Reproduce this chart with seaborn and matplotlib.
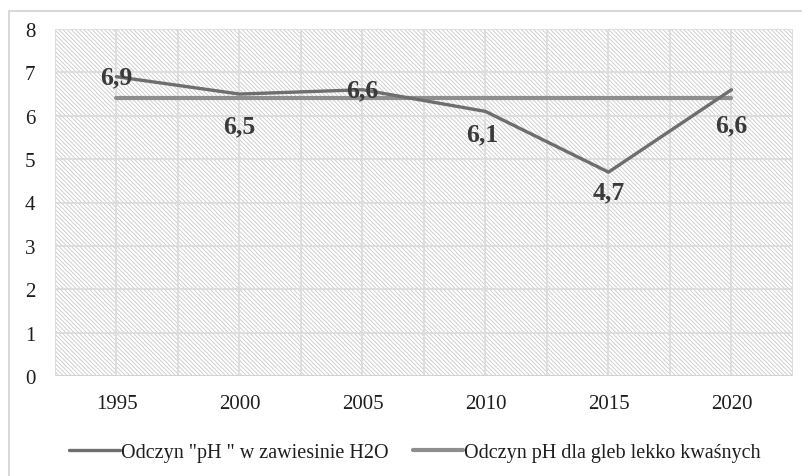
import matplotlib
matplotlib.use("Agg")
import matplotlib.pyplot as plt
import seaborn as sns
import pandas as pd
from matplotlib.patches import Rectangle
from matplotlib.lines import Line2D

years = [1995, 2000, 2005, 2010, 2015, 2020]
ph_values = [6.9, 6.5, 6.6, 6.1, 4.7, 6.6]
ph_reference = [6.4, 6.4, 6.4, 6.4, 6.4, 6.4]
series_names = ['Odczyn "pH " w zawiesinie H2O', "Odczyn pH dla gleb lekko kwaśnych"]
value_labels = ["6,9", "6,5", "6,6", "6,1", "4,7", "6,6"]

# label offsets in pixels (dx, dy)
label_offsets = [(0, 0), (0, -32), (0, 0), (-3, -22), (0, -20), (0, -35)]

sns.set_theme(style="white")
plt.rcParams["font.family"] = ["Liberation Serif", "DejaVu Serif"]
plt.rcParams["hatch.color"] = "#c9c9c9"
plt.rcParams["hatch.linewidth"] = 0.6

df = pd.DataFrame({"year": years, "ph": ph_values, "ref": ph_reference})

fig = plt.figure(figsize=(8.03, 4.77), dpi=100)
ax = fig.add_axes([55 / 803, 100 / 477, 738 / 803, 347 / 477])

# hatched plot area
ax.add_patch(Rectangle((0, 0), 1, 1, transform=ax.transAxes, facecolor="white",
                       edgecolor="#c9c9c9", lw=0, hatch="\\" * 8, zorder=0))

sns.lineplot(data=df, x="year", y="ph", ax=ax, color="#6e6e6e", lw=2.4, zorder=4)
sns.lineplot(data=df, x="year", y="ref", ax=ax, color="#8e8e8e", lw=3.0, zorder=3)

ax.set_xlim(1992.5, 2022.5)
ax.set_ylim(0, 8)
ax.set_xticks(years)
ax.set_xticks([y + 2.5 for y in years] + [1992.5], minor=True)
ax.set_yticks(range(0, 9))
ax.grid(True, which="both", color="#dcdcdc", lw=1.3, zorder=1)
ax.set_axisbelow(True)
ax.set_xlabel("")
ax.set_ylabel("")
for s in ax.spines.values():
    s.set_visible(False)
ax.axhline(0, color="#d0d0d0", lw=1.8, zorder=2)
ax.tick_params(axis="both", which="both", length=0, labelsize=15, colors="#1e1e1e")
ax.tick_params(axis="x", pad=13)
ax.tick_params(axis="y", pad=14)

for x, y, txt, (dx, dy) in zip(years, ph_values, value_labels, label_offsets):
    ax.annotate(txt, (x, y), xytext=(dx * 0.72, dy * 0.72), textcoords="offset points",
                ha="center", va="center", fontsize=18.5, fontweight="bold",
                color="#3a3a3a", zorder=5)

handles = [Line2D([], [], color="#6e6e6e", lw=2.4), Line2D([], [], color="#8e8e8e", lw=3.0)]
fig.legend(handles, series_names, loc="center", bbox_to_anchor=(415 / 803, 1 - 453 / 477),
           ncol=2, frameon=False, fontsize=14.5, handlelength=2.5, handletextpad=0.05,
           columnspacing=1.2, labelcolor="#1e1e1e")

# outer chart frame
fig.add_artist(Line2D([9 / 803, 1], [1 - 12 / 477] * 2, transform=fig.transFigure,
                      color="#d6d6d6", lw=1.3))
fig.add_artist(Line2D([9 / 803] * 2, [0, 1 - 12 / 477], transform=fig.transFigure,
                      color="#d6d6d6", lw=1.3))

fig.savefig("out.png", dpi=100)
